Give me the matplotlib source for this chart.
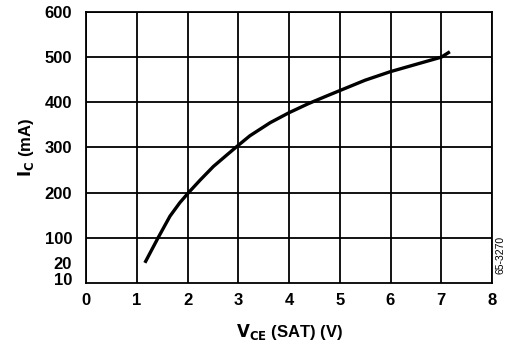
import numpy as np
import matplotlib
matplotlib.use("Agg")
import matplotlib.pyplot as plt

# Data
vce = [1.16, 1.42, 1.655, 1.85, 2.02, 2.25, 2.51, 2.77, 2.97, 3.23, 3.63,
       4.0, 4.38, 4.74, 5.0, 5.5, 6.0, 6.5, 7.0, 7.17]
ic = [21, 100, 148, 178, 200, 228, 258, 283, 302, 326, 355,
      377, 397, 414, 426, 449, 468, 484, 500, 512]

x_ticks = [0, 1, 2, 3, 4, 5, 6, 7, 8]
y_major = [100, 200, 300, 400, 500, 600]
y_minor = [10, 20]

# broken (piecewise linear) lower y-axis as drawn in the datasheet
scale_vals = [0, 10, 20, 100, 600]
scale_pos = [0, 9, 44, 100, 600]

def fwd(v):
    return np.interp(v, scale_vals, scale_pos)

def inv(p):
    return np.interp(p, scale_pos, scale_vals)

plt.rcParams['font.family'] = ['Liberation Sans', 'DejaVu Sans']
plt.rcParams['font.weight'] = 'bold'

fig = plt.figure(figsize=(5.11, 3.51), dpi=100)
ax = fig.add_axes([86/511, 1-283/351, (492-86)/511, (283-12)/351])
ax.set_yscale('function', functions=(fwd, inv))
ax.set_xlim(0, 8)
ax.set_ylim(0, 600)

ax.plot(vce, ic, color='black', lw=2.4, solid_capstyle='butt', solid_joinstyle='round')

ax.set_xticks(x_ticks)
ax.set_xticklabels([str(t) for t in x_ticks])
ax.set_yticks(y_major)
ax.set_yticklabels([str(t) for t in y_major])
ax.set_yticks(y_minor, minor=True)
ax.set_yticklabels([str(t) for t in y_minor], minor=True)
ax.tick_params(axis='both', which='both', length=0, labelsize=12)
ax.tick_params(axis='x', pad=7)
ax.tick_params(axis='y', which='both', pad=10)
for lab in ax.get_xticklabels() + ax.get_yticklabels() + ax.get_yticklabels(minor=True):
    lab.set_fontweight('bold')

ax.grid(True, which='major', color='black', lw=1.3)
for s in ax.spines.values():
    s.set_linewidth(1.3)
    s.set_color('black')

ax.set_xlabel(r'$\mathbf{V_{CE}}$ (SAT) (V)', fontsize=12, fontweight='bold', labelpad=10)
ax.set_ylabel(r'$\mathbf{I_C}$ (mA)', fontsize=12, fontweight='bold', labelpad=6)

fig.text(500/511, 1-255/351, '65-3270', rotation=90, fontsize=7.5,
         ha='center', va='center', fontweight='normal')

fig.savefig('out.png', dpi=100)
